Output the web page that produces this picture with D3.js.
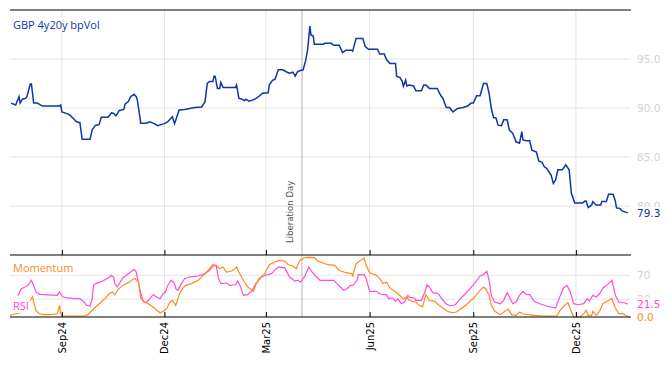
<!DOCTYPE html>
<html>
<head>
<meta charset="utf-8">
<script src="https://cdn.jsdelivr.net/npm/d3@7"></script>
<style>
  html, body { margin: 0; padding: 0; background: #fff; }
  svg { display: block; font-family: "DejaVu Sans", sans-serif; }
</style>
</head>
<body>
<div id="chart"></div>
<script>
// GBP 4y20y bp vol
const volDates = ["2024-07-18","2024-07-22","2024-07-25","2024-07-26","2024-07-28","2024-07-31","2024-08-01","2024-08-04","2024-08-05","2024-08-07","2024-08-10","2024-08-15","2024-08-30","2024-08-31","2024-09-01","2024-09-05","2024-09-08","2024-09-11","2024-09-14","2024-09-17","2024-09-19","2024-09-26","2024-09-28","2024-10-01","2024-10-04","2024-10-06","2024-10-12","2024-10-15","2024-10-17","2024-10-19","2024-10-22","2024-10-26","2024-10-27","2024-10-30","2024-11-01","2024-11-04","2024-11-06","2024-11-07","2024-11-10","2024-11-15","2024-11-18","2024-11-22","2024-11-25","2024-12-01","2024-12-04","2024-12-08","2024-12-10","2024-12-14","2024-12-19","2024-12-28","2025-01-03","2025-01-06","2025-01-08","2025-01-10","2025-01-13","2025-01-14","2025-01-15","2025-01-17","2025-01-19","2025-01-20","2025-01-22","2025-02-02","2025-02-03","2025-02-05","2025-02-08","2025-02-10","2025-02-11","2025-02-14","2025-02-17","2025-02-20","2025-02-23","2025-02-26","2025-03-03","2025-03-04","2025-03-07","2025-03-09","2025-03-12","2025-03-16","2025-03-19","2025-03-22","2025-03-25","2025-03-27","2025-03-29","2025-03-31","2025-04-03","2025-04-05","2025-04-07","2025-04-09","2025-04-10","2025-04-12","2025-04-13","2025-04-21","2025-04-22","2025-04-28","2025-04-30","2025-05-05","2025-05-08","2025-05-11","2025-05-16","2025-05-17","2025-05-20","2025-05-26","2025-05-28","2025-05-31","2025-06-08","2025-06-10","2025-06-14","2025-06-16","2025-06-19","2025-06-24","2025-06-25","2025-06-28","2025-06-30","2025-07-01","2025-07-03","2025-07-04","2025-07-06","2025-07-10","2025-07-12","2025-07-17","2025-07-19","2025-07-21","2025-07-24","2025-07-31","2025-08-03","2025-08-05","2025-08-08","2025-08-11","2025-08-14","2025-08-18","2025-08-23","2025-08-27","2025-08-30","2025-09-01","2025-09-04","2025-09-07","2025-09-10","2025-09-13","2025-09-15","2025-09-17","2025-09-19","2025-09-21","2025-09-23","2025-09-26","2025-09-28","2025-10-01","2025-10-03","2025-10-06","2025-10-09","2025-10-12","2025-10-14","2025-10-15","2025-10-18","2025-10-21","2025-10-23","2025-10-27","2025-10-29","2025-11-01","2025-11-03","2025-11-05","2025-11-09","2025-11-11","2025-11-13","2025-11-15","2025-11-19","2025-11-22","2025-11-25","2025-11-27","2025-11-30","2025-12-07","2025-12-09","2025-12-10","2025-12-12","2025-12-15","2025-12-16","2025-12-19","2025-12-23","2025-12-24","2025-12-28","2025-12-30","2026-01-03","2026-01-05","2026-01-06","2026-01-09","2026-01-11","2026-01-16"];
const volValues = [90.5,90.3,91.15,90.5,90.9,91.0,91.15,92.45,92.45,90.5,90.5,90.2,90.2,90.3,89.6,89.45,89.3,88.95,88.6,88.5,86.8,86.8,87.8,88.25,88.3,89.05,89.05,89.5,89.45,89.2,89.75,89.85,90.4,90.65,91.15,91.4,91.15,90.8,88.45,88.45,88.6,88.4,88.2,88.4,88.6,89.1,88.4,89.8,89.85,90.05,90.1,90.65,92.5,92.7,92.7,93.25,93.25,92.0,92.0,92.6,92.1,92.1,92.35,91.0,90.9,90.75,90.9,90.7,90.8,90.95,91.2,91.5,91.55,92.35,92.85,92.9,93.9,93.9,93.7,93.55,93.65,93.25,93.7,93.8,93.9,94.7,95.9,98.35,97.45,97.35,96.5,96.5,96.6,96.6,96.4,96.4,95.65,95.9,95.9,95.8,97.1,97.1,96.3,96.0,96.0,95.5,95.5,94.95,94.55,94.55,93.25,93.1,92.7,92.2,92.85,92.25,92.35,92.25,91.75,91.75,92.35,92.35,92.0,92.0,91.3,91.0,90.05,90.05,89.6,89.95,90.05,90.2,90.5,90.5,91.25,91.25,92.5,92.5,91.5,89.95,89.0,89.0,88.25,88.2,88.8,88.8,87.75,87.4,86.55,86.4,87.6,86.75,86.65,86.65,85.7,85.5,84.6,84.45,84.0,83.85,83.15,82.3,82.65,83.7,83.7,84.2,83.7,81.3,80.3,80.3,80.5,80.5,79.85,80.1,80.45,80.1,80.1,80.45,80.45,81.2,81.2,80.5,79.8,79.75,79.5,79.3];

// RSI
const rsiDates = ["2024-07-24","2024-07-27","2024-07-30","2024-08-02","2024-08-05","2024-08-07","2024-08-09","2024-08-12","2024-08-28","2024-08-30","2024-08-31","2024-09-02","2024-09-06","2024-09-12","2024-09-17","2024-09-20","2024-09-23","2024-09-26","2024-09-28","2024-09-29","2024-10-01","2024-10-07","2024-10-12","2024-10-15","2024-10-17","2024-10-18","2024-10-20","2024-10-22","2024-10-25","2024-10-30","2024-11-03","2024-11-04","2024-11-06","2024-11-09","2024-11-12","2024-11-15","2024-11-18","2024-11-21","2024-11-24","2024-11-27","2024-11-30","2024-12-02","2024-12-04","2024-12-07","2024-12-10","2024-12-11","2024-12-13","2024-12-16","2024-12-19","2024-12-23","2024-12-31","2025-01-06","2025-01-10","2025-01-13","2025-01-16","2025-01-18","2025-01-20","2025-01-25","2025-01-28","2025-02-02","2025-02-04","2025-02-06","2025-02-09","2025-02-13","2025-02-17","2025-02-20","2025-02-25","2025-03-01","2025-03-06","2025-03-10","2025-03-13","2025-03-18","2025-03-22","2025-03-27","2025-03-29","2025-04-01","2025-04-05","2025-04-08","2025-04-11","2025-04-15","2025-04-18","2025-04-30","2025-05-03","2025-05-09","2025-05-12","2025-05-15","2025-05-17","2025-05-21","2025-05-22","2025-05-27","2025-05-29","2025-06-01","2025-06-07","2025-06-10","2025-06-13","2025-06-16","2025-06-18","2025-06-21","2025-06-24","2025-06-26","2025-06-29","2025-07-02","2025-07-05","2025-07-06","2025-07-11","2025-07-12","2025-07-17","2025-07-20","2025-07-22","2025-07-25","2025-07-27","2025-08-01","2025-08-04","2025-08-07","2025-08-11","2025-08-16","2025-08-20","2025-08-25","2025-08-29","2025-09-02","2025-09-07","2025-09-10","2025-09-13","2025-09-15","2025-09-17","2025-09-20","2025-09-25","2025-09-28","2025-10-01","2025-10-03","2025-10-06","2025-10-09","2025-10-12","2025-10-15","2025-10-18","2025-10-21","2025-10-25","2025-10-30","2025-11-05","2025-11-13","2025-11-16","2025-11-20","2025-11-23","2025-11-26","2025-11-29","2025-12-03","2025-12-08","2025-12-11","2025-12-13","2025-12-16","2025-12-19","2025-12-22","2025-12-25","2025-12-30","2026-01-02","2026-01-05","2026-01-08","2026-01-14","2026-01-16"];
const rsiValues = [36,47.5,50,53,61.6,53,42,38,36.4,42,39,33.6,32,30.7,30.7,26.3,19.6,18.5,30.7,53,56,60,65.4,70,67,56,50.3,56,65.4,72.7,78.4,80,75.5,47.5,26.3,24,30.7,37.4,33.6,30.7,39,43,53,61.6,56,47.5,44.8,56,64.3,67,68.8,72.7,78.4,85.6,85.6,64.3,56,57,53,54,60,53,36.4,37.4,44.8,56,67,70,72.7,81,84,82,67,60,61.6,58.7,70,84,75.5,67,61.6,61.6,56,44.8,47.5,53,53,61.6,71,71,64.3,43,43,39,37.4,37.4,30.7,32,26.3,30.7,22.3,25.2,36.4,33.6,32,28,28,42,54,47.5,40.8,39,30.7,23.5,18.5,20.6,29.7,39,47.5,56,68.8,71,76.7,61.6,36.4,25.2,22.3,28,40.8,33.6,22.3,25.2,36.4,43,37.4,37.4,26.3,22.3,18.5,15,30.7,48.7,53,43,22.3,20.6,22.3,30.7,26.3,36.4,33.6,39,48.7,56,61.6,36.4,25.2,23.5,21.5];

// Momentum
const momDates = ["2024-07-17","2024-07-27","2024-08-01","2024-08-06","2024-08-07","2024-08-09","2024-08-12","2024-08-16","2024-08-22","2024-08-28","2024-08-30","2024-08-31","2024-09-01","2024-09-21","2024-09-24","2024-09-27","2024-10-01","2024-10-06","2024-10-10","2024-10-13","2024-10-16","2024-10-18","2024-10-21","2024-10-25","2024-10-30","2024-11-03","2024-11-05","2024-11-08","2024-11-10","2024-11-13","2024-11-18","2024-11-22","2024-11-27","2024-11-30","2024-12-03","2024-12-06","2024-12-08","2024-12-11","2024-12-14","2024-12-17","2024-12-20","2024-12-25","2024-12-31","2025-01-06","2025-01-10","2025-01-13","2025-01-16","2025-01-19","2025-01-22","2025-01-25","2025-01-29","2025-02-01","2025-02-03","2025-02-05","2025-02-09","2025-02-13","2025-02-18","2025-02-20","2025-02-23","2025-02-28","2025-03-04","2025-03-09","2025-03-13","2025-03-18","2025-03-21","2025-03-25","2025-03-28","2025-03-31","2025-04-04","2025-04-08","2025-04-13","2025-04-16","2025-04-20","2025-04-25","2025-05-01","2025-05-05","2025-05-11","2025-05-16","2025-05-17","2025-05-20","2025-05-24","2025-05-27","2025-05-29","2025-06-01","2025-06-07","2025-06-10","2025-06-13","2025-06-16","2025-06-19","2025-06-23","2025-06-26","2025-07-01","2025-07-04","2025-07-06","2025-07-09","2025-07-12","2025-07-15","2025-07-18","2025-07-21","2025-07-24","2025-07-29","2025-08-01","2025-08-05","2025-08-09","2025-08-13","2025-08-17","2025-08-21","2025-08-26","2025-08-29","2025-09-01","2025-09-04","2025-09-07","2025-09-10","2025-09-12","2025-09-15","2025-09-17","2025-09-20","2025-09-25","2025-09-29","2025-10-02","2025-10-05","2025-10-09","2025-10-12","2025-10-15","2025-10-20","2025-10-24","2025-11-02","2025-11-14","2025-11-17","2025-11-21","2025-11-24","2025-11-26","2025-11-29","2025-12-05","2025-12-08","2025-12-10","2025-12-12","2025-12-15","2025-12-16","2025-12-19","2025-12-22","2025-12-25","2025-12-30","2026-01-02","2026-01-05","2026-01-08","2026-01-12","2026-01-14","2026-01-17"];
const momValues = [3,8,20,34,25,11,5.5,4,4,5.5,19.6,5.5,1.7,1.7,4,9.6,16.8,25.2,32,39,42,37.4,46.5,53,57.6,63.3,64.3,58.7,30.7,26.3,20.6,15,7.2,9.6,14,25.2,28,19.6,36.4,47.5,53,56,61.6,72.7,81,87.7,86.7,81,84,75.5,76.7,80,84,75.5,61.6,50.3,43,54,64.3,72.7,87.7,92.3,95,93.5,87.7,85.6,81,95,99,100,99.5,93.5,91,87.7,86.7,78.4,74.3,72.7,68.8,89.4,95,99,86.7,74.3,70,64.3,56,58.7,48.7,43,39,30.7,33.6,28,26.3,25.2,19.6,16.8,37.4,28,26.3,20.6,15,9.6,7.2,8.4,13.9,20.6,26.3,30.7,37.4,44.8,50.3,47.5,36.4,19.6,9.6,3.9,9.6,12.9,3.9,2.8,8.4,5.5,3.9,2.8,1.7,1.7,11.2,19.6,24,13.9,0,0,5.5,11.2,2.8,2.8,9.6,2.8,9.6,22.3,28,30.7,15,5.5,5.5,2.8,0];

const xTicks = ["2024-09-01","2024-12-01","2025-03-01","2025-06-01","2025-09-01","2025-12-01"];
const volTicks = [80, 85, 90, 95];
const oscTicks = [30, 70];
const eventDate = "2025-04-02";
const eventLabel = "Liberation Day";

const parse = d3.timeParse("%Y-%m-%d");
const W = 668, H = 366;
const L = 10, R = 630;
const topY0 = 10, topY1 = 255, botY1 = 317;

const blue = "#0d36a6", orange = "#ff8a1c", pink = "#ff4bd8", grid = "#e4e4e4";

const x = d3.scaleTime()
  .domain([parse("2024-07-17"), parse("2026-01-18")])
  .range([L, R]);
const yVol = d3.scaleLinear().domain([75, 100]).range([topY1, topY0]);
const yOsc = d3.scaleLinear().domain([0, 104]).range([botY1, topY1]);

const svg = d3.select("#chart").append("svg")
  .attr("width", W).attr("height", H);

// vertical grid across both panels
svg.append("g")
  .selectAll("line")
  .data(xTicks.map(parse))
  .join("line")
  .attr("x1", d => x(d)).attr("x2", d => x(d))
  .attr("y1", topY0).attr("y2", botY1)
  .attr("stroke", grid);

// horizontal grid
svg.append("g")
  .selectAll("line")
  .data(volTicks)
  .join("line")
  .attr("x1", L).attr("x2", R)
  .attr("y1", d => yVol(d)).attr("y2", d => yVol(d))
  .attr("stroke", grid);
svg.append("g")
  .selectAll("line")
  .data(oscTicks)
  .join("line")
  .attr("x1", L).attr("x2", R)
  .attr("y1", d => yOsc(d)).attr("y2", d => yOsc(d))
  .attr("stroke", grid);

// event line
const ex = x(parse(eventDate));
svg.append("line")
  .attr("x1", ex).attr("x2", ex)
  .attr("y1", topY0).attr("y2", botY1)
  .attr("stroke", "#b4b4b4");
svg.append("text")
  .attr("transform", `translate(${ex - 9},${topY1 - 12}) rotate(-90)`)
  .attr("font-size", 8.5)
  .attr("fill", "#555")
  .text(eventLabel);

// right-side tick labels
svg.append("g")
  .selectAll("text")
  .data(volTicks)
  .join("text")
  .attr("x", 637).attr("y", d => yVol(d) + 4)
  .attr("font-size", 10.5)
  .attr("fill", "#d2d2d2")
  .text(d => d.toFixed(1));
svg.append("g")
  .selectAll("text")
  .data(oscTicks)
  .join("text")
  .attr("x", 637).attr("y", d => yOsc(d) + 4)
  .attr("font-size", 10.5)
  .attr("fill", "#d2d2d2")
  .text(d => d);

// series
const line = (xs, ys, yScale) => d3.line()
  .x((d, i) => x(parse(xs[i])))
  .y(d => yScale(d))(ys);

svg.append("path")
  .attr("d", line(volDates, volValues, yVol))
  .attr("fill", "none").attr("stroke", blue).attr("stroke-width", 1.5);
svg.append("path")
  .attr("d", line(rsiDates, rsiValues, yOsc))
  .attr("fill", "none").attr("stroke", pink).attr("stroke-width", 1.2);
svg.append("path")
  .attr("d", line(momDates, momValues, yOsc))
  .attr("fill", "none").attr("stroke", orange).attr("stroke-width", 1.2);

// frame lines
[topY0, topY1, botY1].forEach(yy => {
  svg.append("line")
    .attr("x1", L).attr("x2", R + 1)
    .attr("y1", yy).attr("y2", yy)
    .attr("stroke", "#000").attr("stroke-width", 1.2);
});

// tick marks
const xAxisTop = d3.axisTop(x).tickValues(xTicks.map(parse)).tickSize(5).tickFormat("");
svg.append("g").attr("transform", `translate(0,${topY1})`).call(xAxisTop)
  .call(g => g.select(".domain").remove());
svg.append("g").attr("transform", `translate(0,${botY1})`).call(xAxisTop)
  .call(g => g.select(".domain").remove());

// x labels rotated
const fmt = d3.timeFormat("%b%y");
svg.append("g")
  .selectAll("text")
  .data(xTicks.map(parse))
  .join("text")
  .attr("transform", d => `translate(${x(d) + 4},${botY1 + 5}) rotate(-90)`)
  .attr("text-anchor", "end")
  .attr("font-size", 10)
  .attr("fill", "#000")
  .text(d => fmt(d));

// labels with translucent white backing
function tag(txt, tx, ty, color, size, family) {
  const g = svg.append("g");
  const t = g.append("text")
    .attr("x", tx).attr("y", ty)
    .attr("font-size", size)
    .attr("font-family", family)
    .attr("fill", color)
    .text(txt);
  const b = t.node().getBBox();
  g.insert("rect", "text")
    .attr("x", b.x - 1).attr("y", b.y)
    .attr("width", b.width + 2).attr("height", b.height)
    .attr("fill", "#fff").attr("opacity", 0.8);
}

tag("GBP 4y20y bpVol", 13, 29, blue, 11, "Open Sans");
tag("Momentum", 13, 272, orange, 11, "Open Sans");
tag("RSI", 13, 310, pink, 11, "Open Sans");

tag(volValues[volValues.length - 1].toFixed(1), 637, yVol(volValues[volValues.length - 1]) + 4, blue, 10.5, "DejaVu Sans");
tag(rsiValues[rsiValues.length - 1].toFixed(1), 637, yOsc(rsiValues[rsiValues.length - 1]) + 4, pink, 10.5, "DejaVu Sans");
tag(momValues[momValues.length - 1].toFixed(1), 637, yOsc(momValues[momValues.length - 1]) + 4, orange, 10.5, "DejaVu Sans");
</script>
</body>
</html>
